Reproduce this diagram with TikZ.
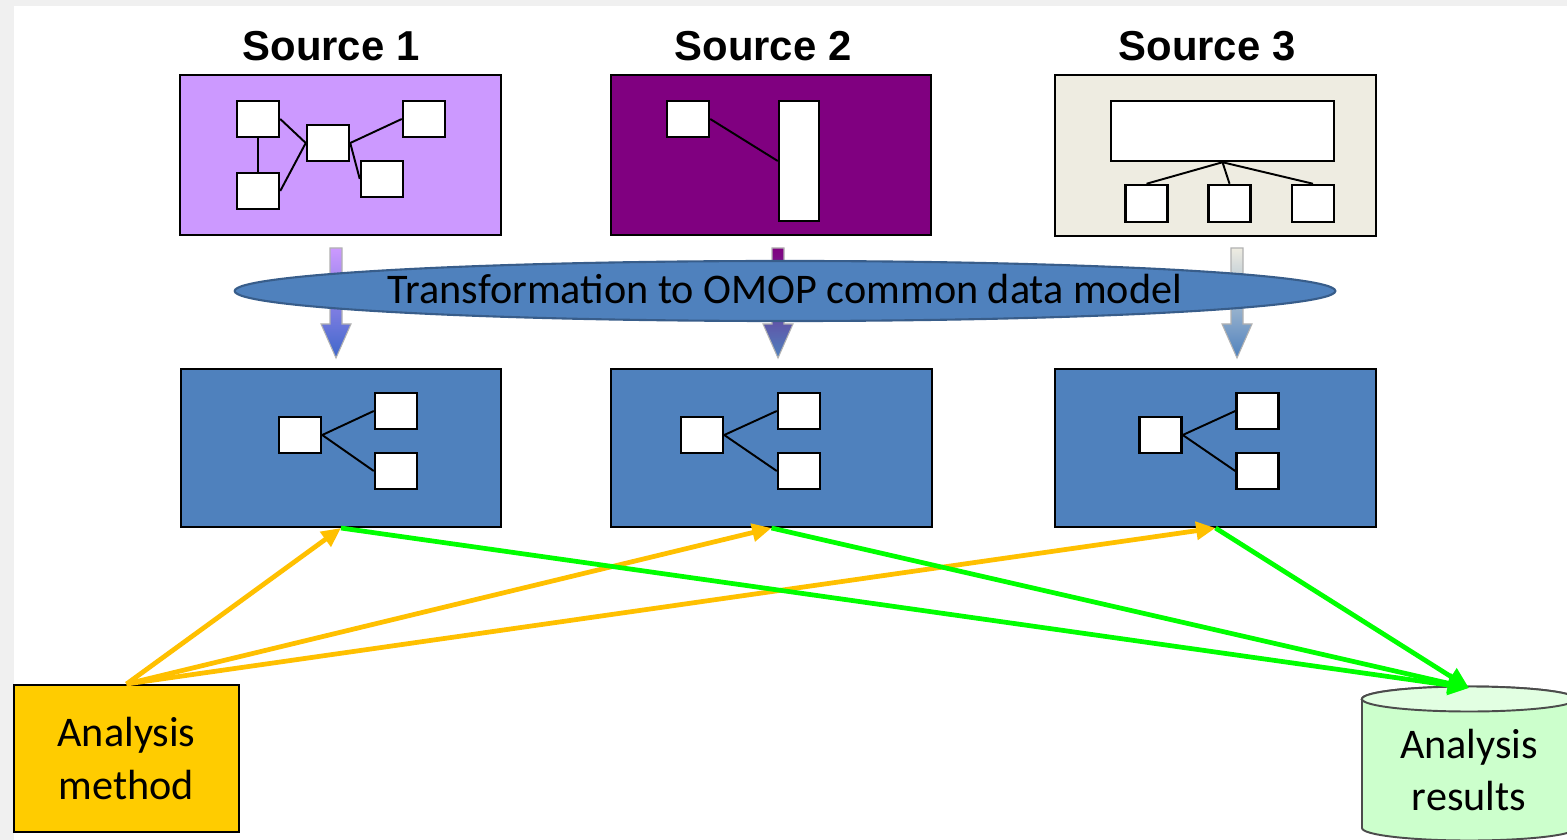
\documentclass[tikz,border=0pt]{standalone}
\usepackage{fontspec}
\setmainfont{Carlito}
\newfontfamily\titlefont{Liberation Sans}
\usepackage{xcolor}
\usepackage{tikz}
\usetikzlibrary{arrows.meta}

\definecolor{srcone}{HTML}{CC99FF}
\definecolor{srctwo}{HTML}{800080}
\definecolor{srcthree}{HTML}{EEECE1}
\definecolor{cdmblue}{HTML}{4F81BD}
\definecolor{cdmedge}{HTML}{385D8A}
\definecolor{methodgold}{HTML}{FFCC00}
\definecolor{linkgold}{HTML}{FFC000}
\definecolor{linkgreen}{HTML}{00FF00}
\definecolor{resultgreen}{HTML}{CCFFCC}
\definecolor{resulttop}{HTML}{E2FFE2}
\definecolor{pagegray}{HTML}{F0F0F0}

\tikzset{
  bigbox/.style={draw=black, line width=0.55pt, minimum width=3.2cm, minimum height=1.6cm, inner sep=0pt},
  tbl/.style={draw=black, fill=white, line width=0.7pt, minimum width=0.42cm, minimum height=0.36cm, inner sep=0pt},
  rel/.style={draw=black, line width=0.55pt},
  srctitle/.style={font=\titlefont\bfseries\fontsize{11.9}{14}\selectfont},
  bodytext/.style={font=\fontsize{12}{14.8}\selectfont, align=center},
  useflow/.style={draw=linkgold, line width=1.35pt, -{Triangle[length=5.5pt,width=5pt]}},
  resflow/.style={draw=linkgreen, line width=1.35pt, -{Triangle[length=6pt,width=5.5pt]}},
}

\begin{document}
\begin{tikzpicture}[x=0.01cm, y=-0.01cm]
\useasboundingbox (0,0) rectangle (1567,840);
% page
\fill[pagegray] (0,0) rectangle (1567,840);
\fill[white] (14,6) rectangle (1567,840);

% source titles
\node[srctitle] (title1) at (331,46) {Source 1};
\node[srctitle] (title2) at (763,46) {Source 2};
\node[srctitle] (title3) at (1207,46) {Source 3};

% source 1
\node[bigbox, fill=srcone] (src1) at (340.5,155) {};
\node[tbl] (s1a) at (258,119) {};
\node[tbl] (s1b) at (258,191) {};
\node[tbl] (s1c) at (328,143) {};
\node[tbl] (s1d) at (424,119) {};
\node[tbl] (s1e) at (382,179) {};
\draw[rel] (s1a.south) -- (s1b.north);
\draw[rel] (s1a.east) -- (s1c.west);
\draw[rel] (s1b.east) -- (s1c.west);
\draw[rel] (s1c.east) -- (s1d.west);
\draw[rel] (s1c.east) -- (s1e.west);

% source 2
\node[bigbox, fill=srctwo] (src2) at (771,155) {};
\node[tbl] (s2a) at (688,119) {};
\node[tbl, minimum width=0.4cm, minimum height=1.2cm] (s2b) at (799,161) {};
\draw[rel] (s2a.east) -- (s2b.west);

% source 3
\node[bigbox, fill=srcthree] (src3) at (1215.5,155.5) {};
\node[tbl, minimum width=2.23cm, minimum height=0.6cm] (s3a) at (1222.5,131) {};
\node[tbl, minimum height=0.37cm] (s3b) at (1146.5,203.5) {};
\node[tbl, minimum height=0.37cm] (s3c) at (1229.5,203.5) {};
\node[tbl, minimum height=0.37cm] (s3d) at (1313,203.5) {};
\draw[rel] (s3a.south) -- (s3b.north);
\draw[rel] (s3a.south) -- (s3c.north);
\draw[rel] (s3a.south) -- (s3d.north);

% block arrows into the common model
\shade[top color=srcone, bottom color=cdmblue!80!blue, draw=gray!60, line width=0.3pt]
  (330,248) -- ++(0,76) -- ++(-9,0) -- ++(15,34) -- ++(15,-34) -- ++(-9,0) -- ++(0,-76) -- cycle;
\shade[top color=srctwo, bottom color=cdmblue, draw=gray!60, line width=0.3pt]
  (772,248) -- ++(0,76) -- ++(-9,0) -- ++(15,34) -- ++(15,-34) -- ++(-9,0) -- ++(0,-76) -- cycle;
\shade[top color=srcthree, bottom color=cdmblue, draw=gray!60, line width=0.3pt]
  (1231,248) -- ++(0,76) -- ++(-9,0) -- ++(15,34) -- ++(15,-34) -- ++(-9,0) -- ++(0,-76) -- cycle;

% transformation
\filldraw[fill=cdmblue, draw=cdmedge, line width=0.6pt] (785,291) ellipse [x radius=5.5cm, y radius=0.3cm];
\node[bodytext] (omop) at (785,289) {Transformation to OMOP common data model};

% common data model copies
\node[bigbox, fill=cdmblue, minimum height=1.58cm] (cdm1) at (341,448) {};
\node[tbl] (c1a) at (300,435) {};
\node[tbl] (c1b) at (396,411) {};
\node[tbl] (c1c) at (396,471) {};
\draw[rel] (c1a.east) -- (c1b.west);
\draw[rel] (c1a.east) -- (c1c.west);

\node[bigbox, fill=cdmblue, minimum height=1.58cm] (cdm2) at (771.5,448) {};
\node[tbl] (c2a) at (702,435) {};
\node[tbl] (c2b) at (799,411) {};
\node[tbl] (c2c) at (799,471) {};
\draw[rel] (c2a.east) -- (c2b.west);
\draw[rel] (c2a.east) -- (c2c.west);

\node[bigbox, fill=cdmblue, minimum height=1.58cm] (cdm3) at (1215.5,448) {};
\node[tbl] (c3a) at (1160.5,435) {};
\node[tbl] (c3b) at (1257.5,411) {};
\node[tbl] (c3c) at (1257.5,471) {};
\draw[rel] (c3a.east) -- (c3b.west);
\draw[rel] (c3a.east) -- (c3c.west);

% analysis method
\node[draw=black, fill=methodgold, line width=0.55pt, minimum width=2.25cm, minimum height=1.47cm, inner sep=0pt, bodytext] (method) at (126.5,758.5) {Analysis\\method};

% analysis results
\filldraw[fill=resultgreen, draw=black!70, line width=0.55pt]
  (1362,699) -- (1362,828) arc[start angle=180, end angle=360, x radius=1.07cm, y radius=0.125cm]
  -- (1576,699) arc[start angle=0, end angle=180, x radius=1.07cm, y radius=0.125cm] -- cycle;
\filldraw[fill=resulttop, draw=black!70, line width=0.55pt] (1469,699) ellipse [x radius=1.07cm, y radius=0.125cm];
\coordinate (restop) at (1469,688);
\node[bodytext] (results) at (1469,770) {Analysis\\results};

% arrows & links
\draw[useflow] (method.north) -- (cdm1.south);
\draw[useflow] (method.north) -- (cdm2.south);
\draw[useflow] (method.north) -- (cdm3.south);
\draw[resflow] (cdm1.south) -- (restop);
\draw[resflow] (cdm2.south) -- (restop);
\draw[resflow] (cdm3.south) -- (restop);
\end{tikzpicture}
\end{document}
